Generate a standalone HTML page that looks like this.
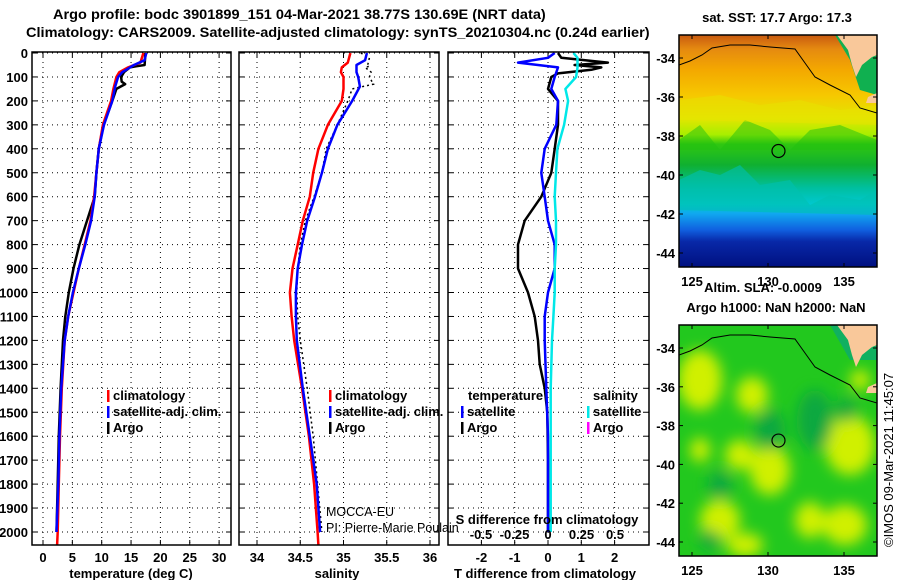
<!DOCTYPE html>
<html><head><meta charset="utf-8"><style>
html,body{margin:0;padding:0;background:#fff;}
svg{display:block;font-family:"Liberation Sans",sans-serif;}
.b{font-weight:bold;font-size:13px;}
.tt{font-weight:bold;font-size:14px;}
</style></head><body>
<svg id="s" width="900" height="580" viewBox="0 0 900 580" xmlns="http://www.w3.org/2000/svg">
<defs>
<linearGradient id="sst" x1="0" y1="0" x2="0" y2="1">
<stop offset="0" stop-color="#c85a10"/><stop offset="0.06" stop-color="#e58a10"/>
<stop offset="0.15" stop-color="#f4a800"/><stop offset="0.26" stop-color="#f6c800"/>
<stop offset="0.36" stop-color="#e2e600"/><stop offset="0.43" stop-color="#a8ee00"/>
<stop offset="0.47" stop-color="#30c810"/><stop offset="0.56" stop-color="#10b030"/>
<stop offset="0.66" stop-color="#00bfa0"/><stop offset="0.73" stop-color="#00c8d0"/>
<stop offset="0.77" stop-color="#10a8f0"/><stop offset="0.84" stop-color="#1060e0"/>
<stop offset="0.89" stop-color="#0828a8"/><stop offset="1" stop-color="#001080"/>
</linearGradient>
<filter id="bl" x="-50%" y="-50%" width="200%" height="200%"><feGaussianBlur stdDeviation="7"/></filter>
<clipPath id="c1"><rect x="679" y="35" width="198" height="232"/></clipPath>
<clipPath id="c2"><rect x="679" y="325" width="198" height="231"/></clipPath>
</defs>
<text id="t1" class="tt" x="53" y="19">Argo profile: bodc 3901899_151 04-Mar-2021 38.77S 130.69E (NRT data)</text>
<text id="t2" class="tt" x="26" y="37">Climatology: CARS2009. Satellite-adjusted climatology: synTS_20210304.nc (0.24d earlier)</text>
<g id="g"></g>
</svg>
<script>
// ---- data ----
const depthTicks=[0,100,200,300,400,500,600,700,800,900,1000,1100,1200,1300,1400,1500,1600,1700,1800,1900,2000];
const tempTicks=[0,5,10,15,20,25,30];
const salTicks=[34,34.5,35,35.5,36];
const salTickLabels=["34","34.5","35","35.5","36"];
const tdiffTicks=[-2,-1,0,1,2];
const sdiffTicks=[-0.5,-0.25,0,0.25,0.5];
const sdiffTickLabels=["-0.5","-0.25","0","0.25","0.5"];

const argoDepth=[0,20,50,55,60,80,100,120,130,150,200,300,400,500,600,700,800,900,1000,1100,1200,1400,1600,1800,2000];
const argoTemp=[17.4,17.4,17.3,16.0,14.8,13.8,13.3,13.4,14.0,12.5,11.8,10.3,9.5,9.1,8.8,7.5,6.2,5.2,4.4,3.8,3.4,3.0,2.7,2.5,2.3];
const argoSal=[35.2,35.3,35.28,35.3,35.25,35.32,35.3,35.33,35.35,35.1,35.05,34.93,34.8,34.75,34.66,34.56,34.5,34.47,34.46,34.47,34.5,34.58,34.65,34.7,34.75];

const climDepth=[0,40,60,80,100,150,200,300,400,500,600,700,800,900,1000,1100,1200,1400,1600,1800,2000,2055];
const climTemp=[17.1,16.6,14.5,13.0,12.5,12.0,11.6,10.2,9.5,9.1,8.7,8.1,7.1,6.1,5.2,4.3,3.7,3.2,2.9,2.7,2.5,2.4];
const climSal=[35.08,35.05,34.98,34.97,35.0,35.0,34.98,34.82,34.71,34.65,34.61,34.53,34.47,34.41,34.38,34.4,34.43,34.52,34.6,34.66,34.7,34.71];

const satDepth=[0,30,50,80,100,140,200,300,400,500,600,700,800,900,1000,1100,1200,1400,1600,1800,2000];
const satTemp=[17.6,17.3,15.5,13.5,12.8,12.3,11.8,10.4,9.5,9.1,8.8,8.2,7.2,6.1,5.1,4.3,3.7,3.1,2.8,2.6,2.3];
const satSal=[35.27,35.25,35.15,35.15,35.17,35.19,35.1,34.93,34.82,34.75,34.67,34.58,34.52,34.47,34.45,34.45,34.46,34.53,34.61,34.69,34.73];

const dArgoDepth=[0,20,40,50,60,70,85,100,150,200,300,400,500,600,700,800,900,1000,1100,1200,1300,1400,1500,1700,2000];
const dArgoT=[0.3,0.4,1.8,0.8,1.6,1.3,0.3,0.1,0.0,0.3,0.3,0.2,0.1,-0.2,-0.7,-0.9,-0.9,-0.6,-0.4,-0.3,-0.25,-0.1,-0.02,0,0];
const dSatDepth=[0,20,40,60,100,150,200,300,400,500,600,700,800,900,1000,1100,1200,1400,1600,2000];
const dSatT=[0.2,0.0,-0.9,0.3,0.2,0.1,0.3,0.25,-0.1,-0.2,-0.1,0.0,0.2,0.2,0.0,-0.1,-0.1,-0.05,0,0];
const dSatS=[0.19,0.22,0.22,0.22,0.21,0.13,0.15,0.12,0.07,0.06,0.05,0.06,0.06,0.05,0.05,0.04,0.03,0.02,0.02,0.02];

const latTicks=[-34,-36,-38,-40,-42,-44];
const lonTicks=[125,130,135];
const argoLon=130.69, argoLat=-38.77;

// title fit
[['t1',493],['t2',624]].forEach(([id,w])=>{const t=document.getElementById(id);const L=t.getComputedTextLength();const x=+t.getAttribute('x');
  if(L>0)t.setAttribute('transform','translate('+x+',0) scale('+(w/L)+',1) translate('+(-x)+',0)');});

// ---- axes ----
const Y=d=>53+d*0.2395;
const P1={x0:32,x1:231,f:t=>43+t*5.87};
const P2={x0:239,x1:439,f:s=>257+(s-34)*86.5};
const P3={x0:448,x1:649,f:t=>548+t*33.3,g:s=>548+s*134};
const M1={x0:679,x1:877,y0:35,y1:267,lx:l=>692+(l-125)*15.2,ly:l=>58+(-34-l)*19.5};
const M2={x0:679,x1:877,y0:325,y1:556,lx:l=>692+(l-125)*15.2,ly:l=>348+(-34-l)*19.4};

const NS="http://www.w3.org/2000/svg";
const G=document.getElementById('g');
function mk(tag,at,parent){const e=document.createElementNS(NS,tag);for(const k in at)e.setAttribute(k,at[k]);(parent||G).appendChild(e);return e;}
function txt(x,y,s,anchor,cls,size){const e=mk('text',{x:x,y:y,'text-anchor':anchor||'start'});if(cls)e.setAttribute('class',cls);if(size)e.setAttribute('font-size',size);e.textContent=s;return e;}
const TOP=52,BOT=545;

function panel(P,name){
  const g=mk('g',{});
  
  
  mk('rect',{x:P.x0,y:TOP,width:P.x1-P.x0,height:BOT-TOP,fill:'#fff'},g);
  depthTicks.forEach(d=>{
    const ln=mk('line',{x1:P.x0,x2:P.x1,y1:Y(d),y2:Y(d),stroke:'#000','stroke-width':1,'stroke-dasharray':'1,4'},g);
    
    
    mk('line',{x1:P.x0,x2:P.x0+5,y1:Y(d),y2:Y(d),stroke:'#000'},g);
    mk('line',{x1:P.x1-5,x2:P.x1,y1:Y(d),y2:Y(d),stroke:'#000'},g);
  });
  return g;
}
function vgrid(g,P,ticks,f){
  ticks.forEach(t=>{const x=f(t);
    const ln=mk('line',{x1:x,x2:x,y1:TOP,y2:BOT,stroke:'#000','stroke-dasharray':'1,4'},g);
    
    
    mk('line',{x1:x,x2:x,y1:BOT-5,y2:BOT,stroke:'#000'},g);
    mk('line',{x1:x,x2:x,y1:TOP,y2:TOP+5,stroke:'#000'},g);
  });
}
function frame(P,g){mk('rect',{x:P.x0,y:TOP,width:P.x1-P.x0,height:BOT-TOP,fill:'none',stroke:'#000','stroke-width':1.5},g);}
function line(g,xs,ds,f,col,w,dash,name){
  const pts=xs.map((v,i)=>f(v).toFixed(1)+','+Y(ds[i]).toFixed(1)).join(' ');
  const p=mk('polyline',{points:pts,fill:'none',stroke:col,'stroke-width':w||2.5,'stroke-linejoin':'round'},g);
  if(dash)p.setAttribute('stroke-dasharray',dash);
  
  
}

depthTicks.forEach(d=>{const t=txt(28,Y(d)+5,String(d),'end','b');
  
  });

const g1=panel(P1,'temperature-panel');
vgrid(g1,P1,tempTicks,P1.f);
line(g1,argoTemp,argoDepth,P1.f,'#000',2.5,null,'argo-temperature-line');
line(g1,climTemp,climDepth,P1.f,'#f00',2.5,null,'climatology-temperature-line');
line(g1,satTemp,satDepth,P1.f,'#00f',2.5,null,'satellite-temperature-line');
frame(P1,g1);
tempTicks.forEach(t=>{const e=txt(P1.f(t),562,String(t),'middle','b');
  
  });
{const e=txt(131,578,'temperature (deg C)','middle','b');
  
  }

const g2=panel(P2,'salinity-panel');
vgrid(g2,P2,salTicks,P2.f);
line(g2,argoSal,argoDepth,P2.f,'#000',1.5,'2,3','argo-salinity-line');
line(g2,climSal,climDepth,P2.f,'#f00',2.5,null,'climatology-salinity-line');
line(g2,satSal,satDepth,P2.f,'#00f',2.5,null,'satellite-salinity-line');
frame(P2,g2);
salTicks.forEach((t,i)=>{const e=txt(P2.f(t),562,salTickLabels[i],'middle','b');
  
  });
{const e=txt(337,578,'salinity','middle','b');
  
  }

const g3=panel(P3,'difference-panel');
vgrid(g3,P3,tdiffTicks,P3.f);
line(g3,dArgoT,dArgoDepth,P3.f,'#000',2.5,null,'argo-temperature-difference-line');
line(g3,dSatT,dSatDepth,P3.f,'#00f',2.5,null,'satellite-temperature-difference-line');
line(g3,dSatS,dSatDepth,P3.g,'#00e8e8',2.5,null,'satellite-salinity-difference-line');
frame(P3,g3);
tdiffTicks.forEach(t=>{const e=txt(P3.f(t),562,String(t),'middle','b');
  
  });
sdiffTicks.forEach((t,i)=>{const e=txt(P3.g(t),539,sdiffTickLabels[i],'middle','b');
  
  });
{const e=txt(547,524,'S difference from climatology','middle','b');
  
  }
{const e=txt(545,578,'T difference from climatology','middle','b');
  
  }

function legend(x,y,col,label,name){
  const g=mk('g',{});
  
  
  mk('rect',{x:x,y:y-10,width:2.5,height:12,fill:col},g);
  const t=txt(x+6,y,label,'start','b');g.appendChild(t);
}
legend(107,400,'#f00','climatology','legend-climatology');
legend(107,416,'#00f','satellite-adj. clim.','legend-satellite-adj');
legend(107,432,'#000','Argo','legend-argo');
legend(329,400,'#f00','climatology','legend-climatology-sal');
legend(329,416,'#00f','satellite-adj. clim.','legend-satellite-adj-sal');
legend(329,432,'#000','Argo','legend-argo-sal');
{const e=txt(468,400,'temperature','start','b');}
{const e=txt(593,400,'salinity','start','b');}
legend(461,416,'#00f','satellite','legend-t-satellite');
legend(461,432,'#000','Argo','legend-t-argo');
legend(587,416,'#00e8e8','satellite','legend-s-satellite');
legend(587,432,'#f0f','Argo','legend-s-argo');

{const e=txt(326,516,'MOCCA-EU','start',null,12.5);}
{const e=txt(326,532,'PI: Pierre-Marie Poulain','start',null,12.5);}

function map(M,name,kind){
  const g=mk('g',{});
  
  
  const inner=mk('g',{'clip-path':'url(#'+(kind==='sst'?'c1':'c2')+')'},g);
  if(kind==='sst'){
    mk('rect',{x:M.x0,y:M.y0,width:M.x1-M.x0,height:M.y1-M.y0,fill:'url(#sst)'},inner);
    mk('path',{d:'M679,180 L700,170 L720,175 L740,165 L760,185 L790,180 L810,205 L830,195 L860,200 L877,190 L877,215 L679,210Z',fill:'#00c0b0',opacity:0.6},inner);
    mk('path',{d:'M679,140 L700,125 L720,150 L745,120 L770,130 L790,150 L810,130 L840,125 L877,140 L877,150 L679,150Z',fill:'#20c010',opacity:0.5},inner);
    mk('path',{d:'M679,100 L720,95 L760,105 L800,100 L840,110 L877,105 L877,125 L679,120Z',fill:'#e8e400',opacity:0.5},inner);
    mk('path',{d:'M835,35 L850,60 L860,90 L877,95 L877,35Z',fill:'#10b050'},inner);
  } else {
    mk('rect',{x:M.x0,y:M.y0,width:M.x1-M.x0,height:M.y1-M.y0,fill:'#22c81e'},inner);
    const bl=mk('g',{filter:'url(#bl)'},inner);
    [[700,380,22,30],[752,395,16,18],[770,470,20,25],[740,455,15,15],[850,445,25,30],[845,525,22,20],[720,520,20,20],[745,545,18,12],[810,520,15,18],[700,450,10,12],[860,380,10,10]].forEach(b=>mk('ellipse',{cx:b[0],cy:b[1],rx:b[2],ry:b[3],fill:'#d0f000'},bl));
    [[720,485,12,14],[815,420,18,30],[770,430,15,20],[846,410,10,12],[710,540,10,10]].forEach(b=>mk('ellipse',{cx:b[0],cy:b[1],rx:b[2],ry:b[3],fill:'#10a840'},bl));
    mk('path',{d:'M830,'+M.y0+' L850,360 L877,360 L877,'+M.y0+'Z',fill:'#10b060'},inner);
  }
  const off=M.y0;
  mk('path',{d:`M837,${off} L848,${off+15} L852,${off+30} L856,${off+42} L862,${off+30} L872,${off+22} L877,${off+20} L877,${off}Z`,fill:'#f9c89a'},inner);
  mk('path',{d:`M868,${off+62} L877,${off+58} L877,${off+68} L866,${off+68}Z`,fill:'#f9c89a'},inner);
  mk('polyline',{points:`679,${off+30} 690,${off+26} 702,${off+20} 712,${off+13} 730,${off+10} 750,${off+10} 770,${off+12} 795,${off+14} 805,${off+28} 815,${off+42} 830,${off+50} 850,${off+60} 860,${off+73} 877,${off+78}`,fill:'none',stroke:'#000','stroke-width':1},inner);
  mk('rect',{x:M.x0,y:M.y0,width:M.x1-M.x0,height:M.y1-M.y0,fill:'none',stroke:'#000','stroke-width':1.5},g);
  latTicks.forEach(l=>{const y=M.ly(l);
    mk('line',{x1:M.x0,x2:M.x0+4,y1:y,y2:y,stroke:'#000'},g);
    mk('line',{x1:M.x1-4,x2:M.x1,y1:y,y2:y,stroke:'#000'},g);
    const t=txt(M.x0-4,y+5,String(l),'end','b');g.appendChild(t);
    
    });
  lonTicks.forEach(l=>{const x=M.lx(l);
    mk('line',{x1:x,x2:x,y1:M.y1-4,y2:M.y1,stroke:'#000'},g);
    mk('line',{x1:x,x2:x,y1:M.y0,y2:M.y0+4,stroke:'#000'},g);
    const t=txt(x,M.y1+19,String(l),'middle','b');g.appendChild(t);
    
    });
  const c=mk('circle',{cx:M.lx(argoLon),cy:M.ly(argoLat),r:6.5,fill:'none',stroke:'#000','stroke-width':1.2},g);
  
  
}
map(M1,'sst-map','sst');
map(M2,'sla-map','sla');
{const e=txt(777,22,'sat. SST: 17.7 Argo: 17.3','middle','b');}
{const e=txt(763,292,'Altim. SLA: -0.0009','middle','b');}
{const e=txt(776,312,'Argo h1000: NaN h2000: NaN','middle','b');}
{const e=txt(0,0,'\u00A9IMOS 09-Mar-2021 11:45:07','start',null,13);e.setAttribute('transform','translate(893,547) rotate(-90)');}
</script>
</body></html>
